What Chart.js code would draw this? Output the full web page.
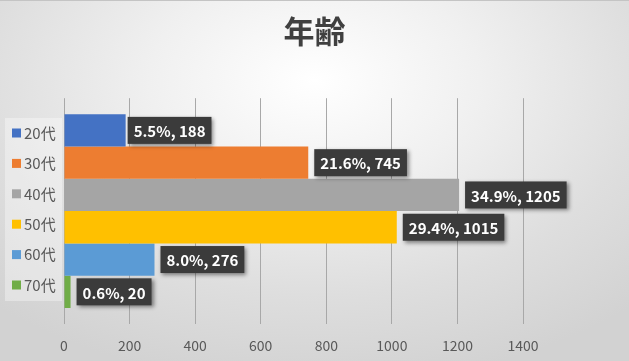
<!DOCTYPE html>
<html>
<head>
<meta charset="utf-8">
<script src="https://cdn.jsdelivr.net/npm/chart.js@4/dist/chart.umd.min.js"></script>
<style>
  html, body { margin: 0; padding: 0; }
  #wrap {
    width: 629px; height: 361px; position: relative; box-sizing: border-box;
    border-top: 1px solid #c4c4c4;
    background: radial-gradient(ellipse 75% 85% at 50% 22%, #ffffff 0%, #f0f0f0 35%, #dedede 70%, #d2d2d2 100%);
  }
  canvas { display: block; position: absolute; left: 0; top: 0; }
</style>
</head>
<body>
<div id="wrap"><canvas id="c" width="629" height="361"></canvas></div>
<script>
const categories = ['20代', '30代', '40代', '50代', '60代', '70代'];
const counts = [188, 745, 1205, 1015, 276, 20];
const percents = ['5.5%', '21.6%', '34.9%', '29.4%', '8.0%', '0.6%'];
const colors = ['#4472C4', '#ED7D31', '#A5A5A5', '#FFC000', '#5B9BD5', '#70AD47'];
const xTicks = [0, 200, 400, 600, 800, 1000, 1200, 1400];

const FONT = '"Noto Sans CJK JP", "Open Sans", sans-serif';

const labelPlugin = {
  id: 'boxLabels',
  afterDatasetsDraw(chart) {
    const ctx = chart.ctx;
    ctx.save();
    ctx.font = 'bold 15px ' + FONT;
    chart.data.datasets.forEach((ds, i) => {
      const el = chart.getDatasetMeta(i).data[0];
      if (!el) return;
      const text = percents[i] + ', ' + counts[i];
      const tw = ctx.measureText(text).width;
      const gap = i === 0 ? 2 : 6;
      const bx = el.x + gap, bh = 27, bw = tw + 12;
      const by = el.y - bh / 2;
      ctx.save();
      ctx.shadowColor = 'rgba(0,0,0,0.45)';
      ctx.shadowBlur = 4;
      ctx.shadowOffsetX = 2;
      ctx.shadowOffsetY = 2;
      ctx.fillStyle = '#3b3b3b';
      ctx.fillRect(bx, by, bw, bh);
      ctx.restore();
      ctx.fillStyle = '#ffffff';
      ctx.textBaseline = 'middle';
      ctx.textAlign = 'left';
      ctx.fillText(text, bx + 6, el.y + 1);
    });
    ctx.restore();
  }
};

const legendPlugin = {
  id: 'sideLegend',
  afterDraw(chart) {
    const ctx = chart.ctx;
    ctx.save();
    ctx.fillStyle = 'rgba(255,255,255,0.35)';
    ctx.fillRect(5, 117, 57, 183);
    ctx.font = '15px ' + FONT;
    ctx.textBaseline = 'middle';
    ctx.textAlign = 'left';
    chart.data.datasets.forEach((ds, i) => {
      const cy = 132 + i * 30.4;
      ctx.fillStyle = ds.backgroundColor;
      ctx.fillRect(12, cy - 4.5, 9, 9);
      ctx.fillStyle = '#595959';
      ctx.fillText(ds.label, 24, cy);
    });
    ctx.restore();
  }
};

new Chart(document.getElementById('c'), {
  type: 'bar',
  data: {
    labels: [''],
    datasets: categories.map((c, i) => ({
      label: c,
      data: [counts[i]],
      backgroundColor: colors[i],
      borderWidth: 0
    }))
  },
  options: {
    indexAxis: 'y',
    responsive: false,
    animation: false,
    layout: { padding: 0 },
    datasets: { bar: { categoryPercentage: 0.858, barPercentage: 1.0 } },
    plugins: {
      legend: { display: false },
      tooltip: { enabled: false },
      title: {
        display: true,
        text: '年齢',
        color: '#404040',
        font: { family: FONT, size: 31, weight: 'bold', lineHeight: 1.2 },
        padding: { top: 12, bottom: 48 }
      }
    },
    scales: {
      y: {
        display: true,
        afterFit(scale) { scale.width = 64; },
        grid: { display: false },
        border: { display: false },
        ticks: { display: false }
      },
      yRight: {
        type: 'linear',
        position: 'right',
        display: true,
        afterFit(scale) { scale.width = 106; },
        grid: { display: false },
        border: { display: false },
        ticks: { display: false }
      },
      x: {
        min: 0, max: 1400,
        afterBuildTicks(scale) { scale.ticks = xTicks.map(v => ({ value: v })); },
        afterFit(scale) { scale.height = 38; },
        border: { display: false },
        grid: { color: '#a8a8a8', lineWidth: 1, drawTicks: false },
        ticks: {
          color: '#595959', font: { family: FONT, size: 14 }, padding: 13,
          callback: (v) => String(v)
        }
      }
    }
  },
  plugins: [labelPlugin, legendPlugin]
});
</script>
</body>
</html>
